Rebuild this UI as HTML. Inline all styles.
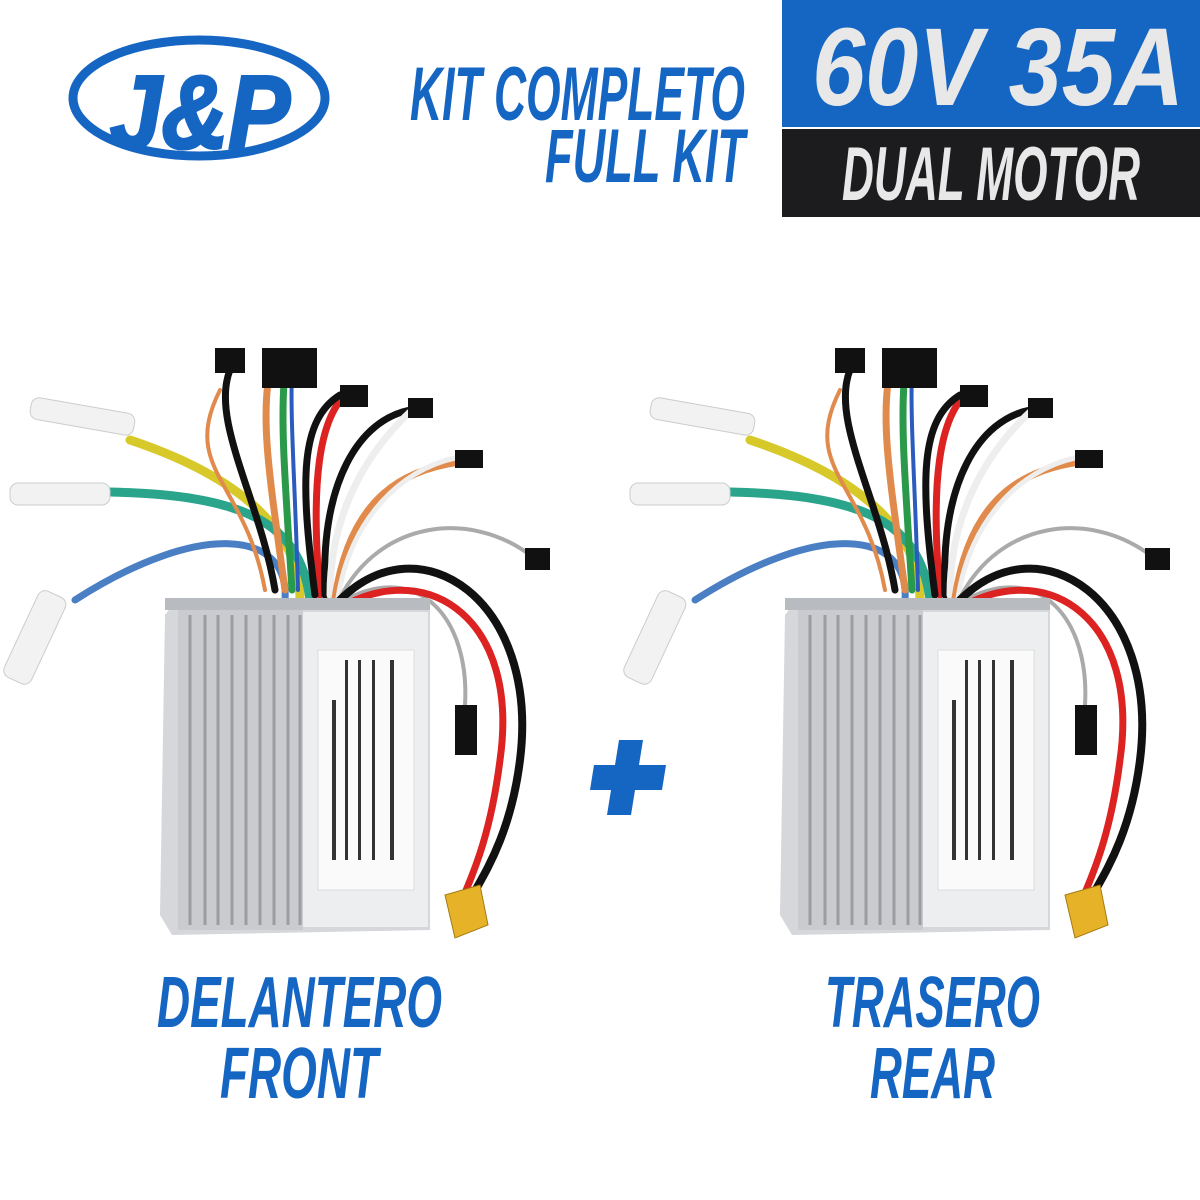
<!DOCTYPE html>
<html><head><meta charset="utf-8"><style>html,body{margin:0;padding:0;background:#fff}svg{display:block}</style></head>
<body>
<svg width="1200" height="1200" viewBox="0 0 1200 1200" xmlns="http://www.w3.org/2000/svg" font-family="Liberation Sans, sans-serif" font-weight="bold" font-style="italic">
<rect width="1200" height="1200" fill="#fff"/>
<!-- logo -->
<ellipse cx="199" cy="98" rx="126" ry="58" fill="none" stroke="#1565c3" stroke-width="9"/>
<text x="110" y="148" font-size="104" fill="#1565c3" stroke="#1565c3" stroke-width="3" textLength="180" lengthAdjust="spacingAndGlyphs">J&amp;P</text>
<text x="410" y="120" font-size="76" fill="#1565c3" textLength="335" lengthAdjust="spacingAndGlyphs">KIT COMPLETO</text>
<text x="545" y="182" font-size="76" fill="#1565c3" textLength="200" lengthAdjust="spacingAndGlyphs">FULL KIT</text>
<rect x="782" y="0" width="418" height="127" fill="#1565c3"/>
<text x="812" y="105" font-size="110" fill="#e8e8e8" textLength="372" lengthAdjust="spacingAndGlyphs">60V 35A</text>
<rect x="782" y="129" width="418" height="88" fill="#1c1c1e"/>
<text x="842" y="200" font-size="76" fill="#e8e8e8" textLength="298" lengthAdjust="spacingAndGlyphs">DUAL MOTOR</text>

<defs>
<g id="ctl">
  <g fill="none" stroke-linecap="round" stroke-width="7">
    <path d="M300 600 C300 520 220 470 130 440" stroke="#d8c92a" stroke-width="9"/>
    <path d="M310 600 C300 520 240 495 110 492" stroke="#2aa58c" stroke-width="9"/>
    <path d="M285 600 C290 530 200 520 75 600" stroke="#4a7fc4" stroke-width="7"/>
    <path d="M275 590 C260 500 210 420 230 370" stroke="#111"/>
    <path d="M285 590 C270 480 260 420 270 370" stroke="#e08a4c"/>
    <path d="M292 590 C285 480 280 420 285 370" stroke="#2a9a4a"/>
    <path d="M298 590 C295 480 290 420 292 370" stroke="#2b5bbd" stroke-width="4"/>
    <path d="M265 590 C245 480 180 470 220 390" stroke="#e08a4c" stroke-width="4"/>
    <path d="M320 595 C310 480 320 420 345 395" stroke="#d22"/>
    <path d="M315 595 C300 480 300 420 340 395" stroke="#111"/>
    <path d="M325 595 C320 480 360 420 410 410" stroke="#111"/>
    <path d="M330 595 C330 500 380 440 410 412" stroke="#eee"/>
    <path d="M335 598 C350 500 400 470 460 462" stroke="#e08a4c"/>
    <path d="M338 598 C350 520 400 470 455 458" stroke="#eee" stroke-width="5"/>
    <path d="M340 598 C380 520 470 510 530 555" stroke="#aaa" stroke-width="4"/>
    <path d="M345 600 C420 560 470 620 465 705" stroke="#aaa" stroke-width="4"/>
    <path d="M340 600 C420 520 540 600 520 760 C510 840 480 880 470 900" stroke="#111" stroke-width="8"/>
    <path d="M345 605 C430 560 520 620 500 760 C490 840 470 880 462 900" stroke="#d22" stroke-width="7"/>
  </g>
  <rect x="30" y="405" width="105" height="22" rx="8" fill="#f2f2f2" stroke="#ccc" transform="rotate(10 80 416)"/>
  <rect x="10" y="483" width="100" height="22" rx="8" fill="#f2f2f2" stroke="#ccc"/>
  <rect x="20" y="590" width="30" height="95" rx="8" fill="#f2f2f2" stroke="#ccc" transform="rotate(25 35 637)"/>
  <rect x="215" y="348" width="30" height="25" fill="#111"/>
  <rect x="262" y="348" width="55" height="40" fill="#111"/>
  <rect x="340" y="385" width="28" height="22" fill="#111"/>
  <rect x="408" y="398" width="25" height="20" fill="#111"/>
  <rect x="455" y="450" width="28" height="18" fill="#111"/>
  <rect x="525" y="548" width="25" height="22" fill="#111"/>
  <rect x="455" y="705" width="22" height="50" fill="#111"/>
  <polygon points="445,895 480,885 488,925 455,938" fill="#e6b227" stroke="#a57a10"/>
  <polygon points="178,598 430,610 430,930 172,935 160,915 165,615" fill="#d5d7da"/>
  <rect x="178" y="605" width="125" height="325" fill="#c9cbcf"/>
  <g stroke="#9a9da2" stroke-width="3">
    <line x1="190" y1="615" x2="190" y2="925"/><line x1="205" y1="615" x2="205" y2="925"/>
    <line x1="218" y1="615" x2="218" y2="925"/><line x1="232" y1="615" x2="232" y2="925"/>
    <line x1="246" y1="615" x2="246" y2="925"/><line x1="260" y1="615" x2="260" y2="925"/>
    <line x1="274" y1="615" x2="274" y2="925"/><line x1="288" y1="615" x2="288" y2="925"/>
    <line x1="300" y1="615" x2="300" y2="925"/>
  </g>
  <rect x="303" y="612" width="125" height="315" fill="#eceef0"/>
  <rect x="318" y="650" width="96" height="240" fill="#fafafa" stroke="#ddd"/>
  <g fill="#333">
    <rect x="332" y="700" width="4" height="160"/><rect x="345" y="660" width="3" height="200"/>
    <rect x="358" y="660" width="3" height="200"/><rect x="372" y="660" width="3" height="200"/><rect x="390" y="660" width="4" height="200"/>
  </g>
  <rect x="165" y="598" width="265" height="12" fill="#b8bbc0"/>
</g>
</defs>
<use href="#ctl"/>
<use href="#ctl" transform="translate(620,0)"/>

<!-- plus -->
<path d="M619 740 L643 740 L639 765 L666 765 L662 790 L635 790 L631 815 L607 815 L611 790 L590 790 L594 765 L615 765 Z" fill="#1565c3"/>

<g fill="#1565c3" font-size="72">
<text x="157" y="1027" textLength="285" lengthAdjust="spacingAndGlyphs">DELANTERO</text>
<text x="220" y="1098" textLength="158" lengthAdjust="spacingAndGlyphs">FRONT</text>
<text x="825" y="1027" textLength="215" lengthAdjust="spacingAndGlyphs">TRASERO</text>
<text x="870" y="1098" textLength="125" lengthAdjust="spacingAndGlyphs">REAR</text>
</g>
</svg>
</body></html>
